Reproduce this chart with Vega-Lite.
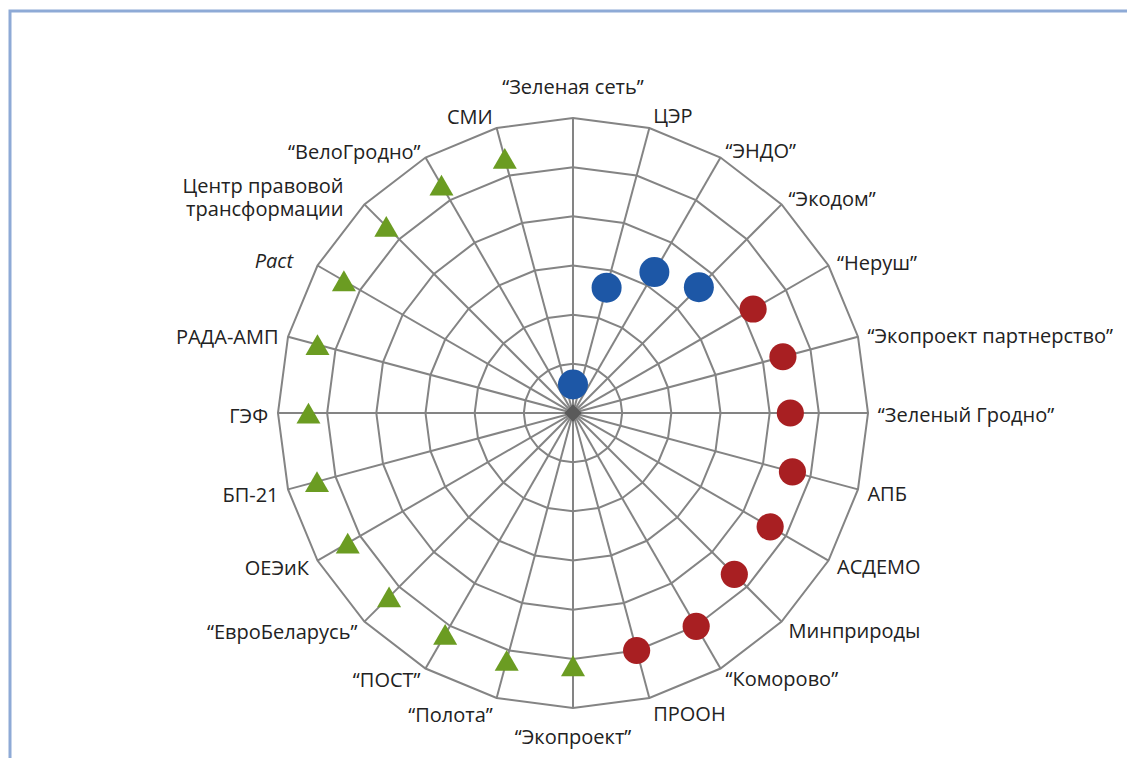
{
  "$schema": "https://vega.github.io/schema/vega-lite/v6.json",
  "width": 1117,
  "height": 747,
  "autosize": {"type": "none"},
  "padding": {"left": 10, "top": 11, "right": 0, "bottom": 0},
  "background": "white",
  "config": {
    "view": {"stroke": "#8eaad6", "strokeWidth": 3, "strokeDash": [1117, 1864, 760, 10]},
    "text": {"font": "Open Sans", "fontSize": 20, "color": "#222222"}
  },
  "datasets": {
    "orgs": [
      {"i": 0, "name": "“Зеленая сеть”", "group": "A", "value": 0.58},
      {"i": 1, "name": "ЦЭР", "group": "A", "value": 2.64},
      {"i": 2, "name": "“ЭНДО”", "group": "A", "value": 3.31},
      {"i": 3, "name": "“Экодом”", "group": "A", "value": 3.62},
      {"i": 4, "name": "“Неруш”", "group": "B", "value": 4.23},
      {"i": 5, "name": "“Экопроект партнерство”", "group": "B", "value": 4.42},
      {"i": 6, "name": "“Зеленый Гродно”", "group": "B", "value": 4.42},
      {"i": 7, "name": "АПБ", "group": "B", "value": 4.62},
      {"i": 8, "name": "АСДЕМО", "group": "B", "value": 4.63},
      {"i": 9, "name": "Минприроды", "group": "B", "value": 4.64},
      {"i": 10, "name": "“Коморово”", "group": "B", "value": 5.01},
      {"i": 11, "name": "ПРООН", "group": "B", "value": 5.0},
      {"i": 12, "name": "“Экопроект”", "group": "C", "value": 5.14},
      {"i": 13, "name": "“Полота”", "group": "C", "value": 5.21},
      {"i": 14, "name": "“ПОСТ”", "group": "C", "value": 5.2},
      {"i": 15, "name": "“ЕвроБеларусь”", "group": "C", "value": 5.29},
      {"i": 16, "name": "ОЕЭиК", "group": "C", "value": 5.29},
      {"i": 17, "name": "БП-21", "group": "C", "value": 5.39},
      {"i": 18, "name": "ГЭФ", "group": "C", "value": 5.38},
      {"i": 19, "name": "РАДА-АМП", "group": "C", "value": 5.38},
      {"i": 20, "name": "Pact", "group": "C", "value": 5.38},
      {"i": 21, "name": "Центр правовой\nтрансформации", "group": "C", "value": 5.37},
      {"i": 22, "name": "“ВелоГродно”", "group": "C", "value": 5.35},
      {"i": 23, "name": "СМИ", "group": "C", "value": 5.36}
    ],
    "grid": [
      {"ring": 1, "spoke": [0,1,2,3,4,5,6,7,8,9,10,11,12,13,14,15,16,17,18,19,20,21,22,23]},
      {"ring": 2, "spoke": [0,1,2,3,4,5,6,7,8,9,10,11,12,13,14,15,16,17,18,19,20,21,22,23]},
      {"ring": 3, "spoke": [0,1,2,3,4,5,6,7,8,9,10,11,12,13,14,15,16,17,18,19,20,21,22,23]},
      {"ring": 4, "spoke": [0,1,2,3,4,5,6,7,8,9,10,11,12,13,14,15,16,17,18,19,20,21,22,23]},
      {"ring": 5, "spoke": [0,1,2,3,4,5,6,7,8,9,10,11,12,13,14,15,16,17,18,19,20,21,22,23]},
      {"ring": 6, "spoke": [0,1,2,3,4,5,6,7,8,9,10,11,12,13,14,15,16,17,18,19,20,21,22,23]}
    ],
    "center": [{"value": 0}]
  },
  "layer": [
    {
      "data": {"name": "grid"},
      "transform": [
        {"flatten": ["spoke"]},
        {"calculate": "datum.ring*sin(datum.spoke*PI/12)", "as": "px"},
        {"calculate": "datum.ring*cos(datum.spoke*PI/12)", "as": "py"}
      ],
      "mark": {"type": "line", "interpolate": "linear-closed", "stroke": "#848484", "strokeWidth": 2},
      "encoding": {
        "x": {"field": "px", "type": "quantitative", "axis": null, "scale": {"domain": [-11.45, 11.267], "nice": false, "zero": false}},
        "y": {"field": "py", "type": "quantitative", "axis": null, "scale": {"domain": [-7.016, 8.176], "nice": false, "zero": false}},
        "detail": {"field": "ring", "type": "nominal"},
        "order": {"field": "spoke", "type": "quantitative"}
      }
    },
    {
      "data": {"name": "orgs"},
      "transform": [
        {"calculate": "0", "as": "ox"},
        {"calculate": "6*sin(datum.i*PI/12)", "as": "px"},
        {"calculate": "6*cos(datum.i*PI/12)", "as": "py"}
      ],
      "mark": {"type": "rule", "stroke": "#848484", "strokeWidth": 2},
      "encoding": {
        "x": {"field": "ox", "type": "quantitative", "axis": null, "scale": {"domain": [-11.45, 11.267], "nice": false, "zero": false}},
        "y": {"field": "ox", "type": "quantitative", "axis": null, "scale": {"domain": [-7.016, 8.176], "nice": false, "zero": false}},
        "x2": {"field": "px"},
        "y2": {"field": "py"}
      }
    },
    {
      "data": {"name": "center"},
      "mark": {"type": "point", "shape": "diamond", "filled": true, "color": "#5a5a5a", "opacity": 1, "size": 300},
      "encoding": {
        "x": {"field": "value", "type": "quantitative", "axis": null, "scale": {"domain": [-11.45, 11.267], "nice": false, "zero": false}},
        "y": {"field": "value", "type": "quantitative", "axis": null, "scale": {"domain": [-7.016, 8.176], "nice": false, "zero": false}}
      }
    },
    {
      "data": {"name": "orgs"},
      "transform": [
        {"calculate": "datum.value*sin(datum.i*PI/12)", "as": "px"},
        {"calculate": "datum.value*cos(datum.i*PI/12)", "as": "py"}
      ],
      "mark": {"type": "point", "filled": true, "opacity": 1, "strokeWidth": 0},
      "encoding": {
        "x": {"field": "px", "type": "quantitative", "axis": null, "scale": {"domain": [-11.45, 11.267], "nice": false, "zero": false}},
        "y": {"field": "py", "type": "quantitative", "axis": null, "scale": {"domain": [-7.016, 8.176], "nice": false, "zero": false}},
        "color": {"field": "group", "type": "nominal", "legend": null, "scale": {"domain": ["A", "B", "C"], "range": ["#1d57a6", "#a81f22", "#6b9c22"]}},
        "shape": {"field": "group", "type": "nominal", "legend": null, "scale": {"domain": ["A", "B", "C"], "range": ["circle", "circle", "triangle-up"]}},
        "size": {"field": "group", "type": "nominal", "legend": null, "scale": {"domain": ["A", "B", "C"], "range": [900, 576, 400]}}
      }
    },
    {
      "data": {"name": "orgs"},
      "transform": [
        {"filter": "datum.i >= 1 && datum.i <= 11"},
        {"calculate": "6.2 + 0.41*pow(abs(cos(datum.i*PI/12)), 40)", "as": "rl"},
        {"calculate": "datum.rl*sin(datum.i*PI/12)", "as": "px"},
        {"calculate": "datum.rl*cos(datum.i*PI/12)", "as": "py"}
      ],
      "mark": {"type": "text", "align": "left", "baseline": "middle", "dy": 3},
      "encoding": {
        "x": {"field": "px", "type": "quantitative", "axis": null, "scale": {"domain": [-11.45, 11.267], "nice": false, "zero": false}},
        "y": {"field": "py", "type": "quantitative", "axis": null, "scale": {"domain": [-7.016, 8.176], "nice": false, "zero": false}},
        "text": {"field": "name", "type": "nominal"}
      }
    },
    {
      "data": {"name": "orgs"},
      "transform": [
        {"filter": "datum.i >= 13 && datum.i <= 23 && datum.i != 20 && datum.i != 21"},
        {"calculate": "6.2 + 0.41*pow(abs(cos(datum.i*PI/12)), 40)", "as": "rl"},
        {"calculate": "datum.rl*sin(datum.i*PI/12)", "as": "px"},
        {"calculate": "datum.rl*cos(datum.i*PI/12)", "as": "py"}
      ],
      "mark": {"type": "text", "align": "right", "baseline": "middle", "dy": 4},
      "encoding": {
        "x": {"field": "px", "type": "quantitative", "axis": null, "scale": {"domain": [-11.45, 11.267], "nice": false, "zero": false}},
        "y": {"field": "py", "type": "quantitative", "axis": null, "scale": {"domain": [-7.016, 8.176], "nice": false, "zero": false}},
        "text": {"field": "name", "type": "nominal"}
      }
    },
    {
      "data": {"name": "orgs"},
      "transform": [
        {"filter": "datum.i == 21"},
        {"calculate": "6.2*sin(datum.i*PI/12)", "as": "px"},
        {"calculate": "6.2*cos(datum.i*PI/12)", "as": "py"}
      ],
      "mark": {"type": "text", "align": "right", "baseline": "middle", "lineBreak": "\n", "lineHeight": 23, "dx": -14, "dy": -10},
      "encoding": {
        "x": {"field": "px", "type": "quantitative", "axis": null, "scale": {"domain": [-11.45, 11.267], "nice": false, "zero": false}},
        "y": {"field": "py", "type": "quantitative", "axis": null, "scale": {"domain": [-7.016, 8.176], "nice": false, "zero": false}},
        "text": {"field": "name", "type": "nominal"}
      }
    },
    {
      "data": {"name": "orgs"},
      "transform": [
        {"filter": "datum.i == 20"},
        {"calculate": "6.2*sin(datum.i*PI/12)", "as": "px"},
        {"calculate": "6.2*cos(datum.i*PI/12)", "as": "py"}
      ],
      "mark": {"type": "text", "align": "right", "baseline": "middle", "fontStyle": "italic", "dx": -16, "dy": 1},
      "encoding": {
        "x": {"field": "px", "type": "quantitative", "axis": null, "scale": {"domain": [-11.45, 11.267], "nice": false, "zero": false}},
        "y": {"field": "py", "type": "quantitative", "axis": null, "scale": {"domain": [-7.016, 8.176], "nice": false, "zero": false}},
        "text": {"field": "name", "type": "nominal"}
      }
    },
    {
      "data": {"name": "orgs"},
      "transform": [
        {"filter": "datum.i == 0 || datum.i == 12"},
        {"calculate": "6.61*sin(datum.i*PI/12)", "as": "px"},
        {"calculate": "6.61*cos(datum.i*PI/12)", "as": "py"}
      ],
      "mark": {"type": "text", "align": "center", "baseline": "middle"},
      "encoding": {
        "x": {"field": "px", "type": "quantitative", "axis": null, "scale": {"domain": [-11.45, 11.267], "nice": false, "zero": false}},
        "y": {"field": "py", "type": "quantitative", "axis": null, "scale": {"domain": [-7.016, 8.176], "nice": false, "zero": false}},
        "text": {"field": "name", "type": "nominal"}
      }
    }
  ]
}
